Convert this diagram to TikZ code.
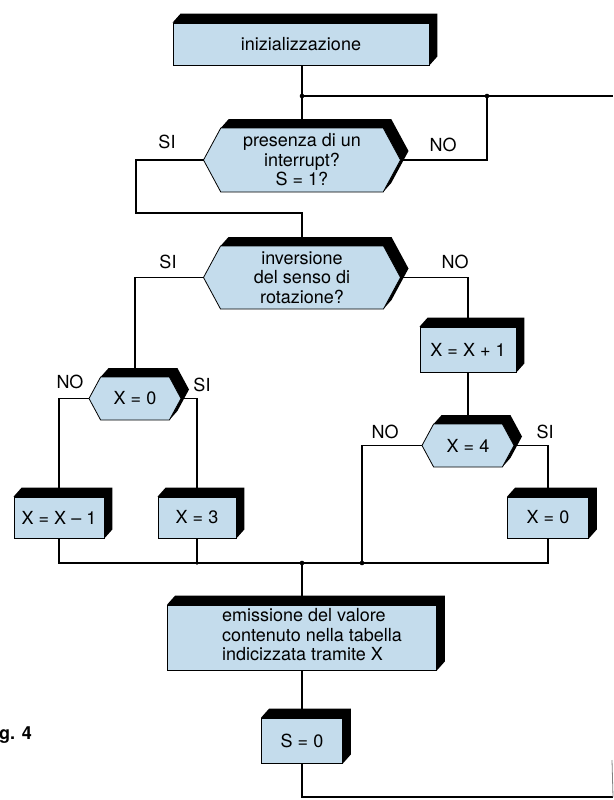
\documentclass[tikz,border=0pt]{standalone}
\usepackage{fontspec}
\setmainfont{TeX Gyre Heros}
\usetikzlibrary{backgrounds, calc}

\definecolor{facciata}{RGB}{196,220,236}
\newcommand{\flowfont}{\fontsize{18}{19.5}\selectfont}

\tikzset{
  proc/.style={draw, fill=facciata, line width=0.8pt, inner sep=2pt, font=\flowfont},
  cond/.style={inner sep=0pt, outer sep=0pt, font=\flowfont, align=center},
  lbl/.style={font=\flowfont, inner sep=0pt},
  linea/.style={line width=1.1pt},
  giunto/.style={fill, line width=0pt}
}

% spessore nero in alto a destra
\newcommand{\ombrabox}[1]{%
  \fill (#1.north west) -- ++(8,-9) -- ($(#1.north east)+(8,-9)$)
    -- ($(#1.south east)+(8,-9)$) -- (#1.south east) -- cycle;}
\newcommand{\esagono}[1]{%
  \path let \p1=(#1.north west), \p2=(#1.south east), \n1={0.27*(\y1-\y2)} in
    coordinate (#1-tl) at (\x1+\n1,\y1) coordinate (#1-tr) at (\x2-\n1,\y1)
    coordinate (#1-br) at (\x2-\n1,\y2) coordinate (#1-bl) at (\x1+\n1,\y2);
  \fill (#1-tl) -- ++(8,-9) -- ($(#1-tr)+(8,-9)$) -- ($(#1.east)+(8,-9)$)
    -- ($(#1-br)+(8,-9)$) -- (#1-br) -- cycle;
  \filldraw[fill=facciata, line width=0.8pt] (#1.west) -- (#1-tl) -- (#1-tr)
    -- (#1.east) -- (#1-br) -- (#1-bl) -- cycle;}

\begin{document}
\begin{tikzpicture}[x=1pt, y=-1pt]
  \useasboundingbox (0,0) rectangle (613,800);

  % blocchi
  \node[proc, minimum width=256pt, minimum height=42pt] (init) at (301,44) {inizializzazione};
  \node[cond, minimum width=197pt, minimum height=64pt] (d1) at (302,160) {presenza di un\\interrupt?\\S = 1?};
  \node[cond, minimum width=197pt, minimum height=63pt] (d2) at (302,277.5) {inversione\\del senso di\\rotazione?};
  \node[proc, minimum width=96pt, minimum height=45pt] (p1) at (468,349.5) {X = X + 1};
  \node[cond, minimum width=92pt, minimum height=43pt] (d3) at (135,398.5) {X = 0};
  \node[cond, minimum width=92pt, minimum height=43pt] (d4) at (468,445.5) {X = 4};
  \node[proc, minimum width=90pt, minimum height=41pt] (p2) at (59,517.5) {X = X – 1};
  \node[proc, minimum width=78pt, minimum height=41pt] (p3) at (197,517.5) {X = 3};
  \node[proc, minimum width=81pt, minimum height=41pt] (p4) at (548,517.5) {X = 0};
  \node[proc, minimum width=269pt, minimum height=65pt] (emit) at (302,637.5)
    {\begin{tabular}{@{\hspace{20pt}}l@{}}emissione del valore\\contenuto nella tabella\\indicizzata tramite X\end{tabular}};
  \node[proc, minimum width=81pt, minimum height=45pt] (s0) at (302,740.5) {S = 0};

  \begin{pgfonlayer}{background}
    \foreach \b in {init,p1,p2,p3,p4,emit,s0} {\ombrabox{\b}}
    \foreach \c in {d1,d2,d3,d4} {\esagono{\c}}
  \end{pgfonlayer}

  % etichette
  \node[lbl] (si1) at (167,142) {SI};
  \node[lbl] (no1) at (443,145) {NO};
  \node[lbl] (si2) at (168,262) {SI};
  \node[lbl] (no2) at (455,262) {NO};
  \node[lbl] (no3) at (70,382) {NO};
  \node[lbl] (si3) at (202,385) {SI};
  \node[lbl] (no4) at (385,432) {NO};
  \node[lbl] (si4) at (545,432) {SI};
  \node[lbl, font=\bfseries\flowfont, anchor=base west] (fig) at (-1,739) {g. 4};

  \coordinate (j1) at (302,96);
  \coordinate (j2) at (487,96);
  \coordinate (r1) at (613,96);
  \coordinate (k1) at (136,213);
  \coordinate (bus) at (302,563);
  \coordinate (j4) at (362,563);
  \coordinate (r2) at (613,797);

  % collegamenti
  \begin{scope}[linea]
    \draw (init.south -| j1) -- (d1.north);
    \draw (j1) -- (r1);
    \draw (d1.east) -| (j2);
    \draw (d1.west) -| (k1) -- (k1 -| d2.north) -- (d2.north);
    \draw (d2.west) -| (d3.north);
    \draw (d2.east) -| (p1.north);
    \draw (p1.south) -- (d4.north);
    \draw (d3.west) -| (p2.north);
    \draw (d3.east) -| (p3.north);
    \draw (d4.west) -| (j4);
    \draw (d4.east) -| (p4.north);
    \draw (p2.south) |- (bus) -| (p4.south);
    \draw (p3.south) -- (p3.south |- bus);
    \draw (bus) -- (emit.north);
    \draw (emit.south) -- (s0.north);
    \draw (s0.south) |- (r2);
  \end{scope}
  \draw[gray, line width=0.8pt] (612,760) -- (r2);

  \foreach \g in {j1,j2,bus,j4} {\fill[giunto] (\g) circle (2.3pt);}
  \fill[giunto] (p3.south |- bus) circle (1.8pt);
\end{tikzpicture}
\end{document}
